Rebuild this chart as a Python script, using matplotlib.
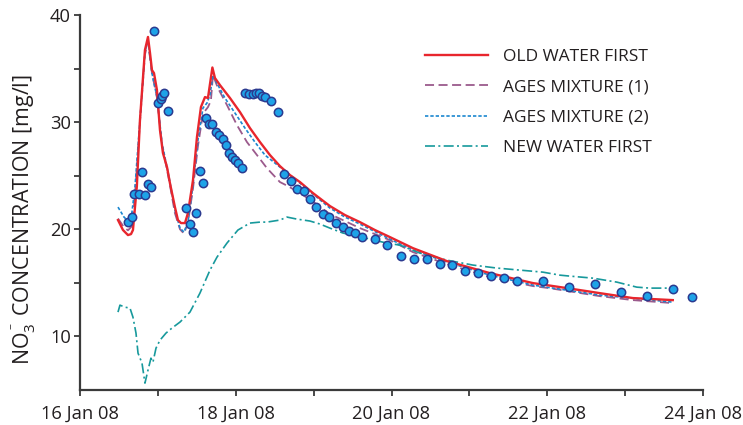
import numpy as np
import matplotlib
matplotlib.use("Agg")
import matplotlib.pyplot as plt

plt.rcParams['font.family'] = ['Open Sans', 'DejaVu Sans']
plt.rcParams['mathtext.fontset'] = 'custom'
plt.rcParams['mathtext.rm'] = 'Open Sans'
plt.rcParams['mathtext.it'] = 'Open Sans'

# x values: days after 16 Jan 2008 00:00
obs_t = [0.616, 0.668, 0.693, 0.757, 0.792, 0.834, 0.873, 0.911, 0.950, 1.001, 1.040, 1.053,
         1.078, 1.130, 1.361, 1.412, 1.451, 1.489, 1.540, 1.579, 1.617, 1.656, 1.694, 1.746,
         1.784, 1.836, 1.874, 1.913, 1.951, 1.990, 2.028, 2.080, 2.118, 2.169, 2.221, 2.259,
         2.298, 2.336, 2.375, 2.452, 2.542, 2.619, 2.709, 2.786, 2.876, 2.953, 3.030, 3.119,
         3.196, 3.286, 3.376, 3.453, 3.530, 3.620, 3.787, 3.941, 4.121, 4.288, 4.454, 4.621,
         4.775, 4.942, 5.109, 5.276, 5.443, 5.610, 5.943, 6.277, 6.611, 6.945, 7.279, 7.612,
         7.856]
obs_v = [20.67, 21.14, 23.29, 23.29, 25.37, 23.19, 24.22, 23.94, 38.51, 31.78, 32.16, 32.44,
         32.72, 31.04, 21.98, 20.49, 19.74, 21.51, 25.43, 24.31, 30.38, 29.82, 29.82, 29.08,
         28.80, 28.42, 27.86, 27.12, 26.74, 26.46, 26.18, 25.71, 32.72, 32.62, 32.62, 32.72,
         32.72, 32.44, 32.34, 31.97, 30.94, 25.15, 24.50, 23.75, 23.57, 22.82, 22.07, 21.42,
         21.14, 20.58, 20.21, 19.83, 19.65, 19.27, 19.08, 18.52, 17.50, 17.22, 17.22, 16.75,
         16.66, 16.10, 15.91, 15.63, 15.44, 15.16, 15.16, 14.60, 14.88, 14.14, 13.76, 14.42,
         13.67]

old_t = [0.488, 0.552, 0.616, 0.655, 0.680, 0.730, 0.770, 0.834, 0.873, 0.899, 0.924, 0.950,
         0.988, 1.027, 1.065, 1.117, 1.155, 1.219, 1.258, 1.297, 1.348, 1.386, 1.451, 1.502,
         1.553, 1.605, 1.643, 1.700, 1.733, 1.797, 1.926, 2.054, 2.182, 2.311, 2.439, 2.567,
         2.696, 2.824, 2.991, 3.209, 3.402, 3.594, 3.787, 3.980, 4.275, 4.711, 5.263, 5.815,
         6.252, 6.675, 7.099, 7.612]
old_v = [20.86, 19.93, 19.46, 19.55, 19.93, 24.00, 30.20, 36.73, 37.95, 36.45, 34.86, 34.58,
         33.00, 29.26, 27.12, 25.81, 24.31, 22.07, 20.86, 20.58, 20.58, 21.51, 24.59, 28.61,
         31.41, 32.34, 32.25, 35.10, 34.12, 33.46, 32.25, 30.94, 29.45, 28.14, 26.93, 25.90,
         25.06, 24.41, 23.38, 22.17, 21.33, 20.67, 19.93, 19.27, 18.24, 17.03, 15.91, 14.98,
         14.51, 14.04, 13.58, 13.39]

mix1_t = [0.488, 0.565, 0.616, 0.668, 0.706, 0.770, 0.834, 0.873, 0.924, 0.988, 1.053, 1.143,
          1.219, 1.284, 1.335, 1.386, 1.451, 1.515, 1.579, 1.643, 1.681, 1.707, 1.771, 1.887,
          2.015, 2.144, 2.272, 2.400, 2.567, 2.670, 2.824, 3.017, 3.209, 3.402, 3.594, 3.980,
          4.275, 4.711, 5.263, 5.815, 6.033, 6.675, 7.099, 7.612]
mix1_v = [21.00, 20.20, 19.90, 20.30, 23.20, 30.00, 36.30, 37.50, 34.60, 32.30, 27.90, 24.60,
          21.50, 20.00, 19.60, 20.60, 23.80, 27.80, 30.80, 31.40, 32.00, 34.40, 33.18, 31.60,
          29.73, 28.14, 26.93, 25.71, 24.41, 24.03, 23.38, 22.45, 21.42, 20.77, 20.11, 18.99,
          17.87, 16.75, 15.54, 14.70, 14.50, 13.76, 13.39, 13.11]

mix2_t = [0.488, 0.565, 0.616, 0.655, 0.706, 0.770, 0.834, 0.873, 0.924, 0.988, 1.053, 1.143,
          1.219, 1.284, 1.335, 1.386, 1.451, 1.515, 1.579, 1.630, 1.669, 1.707, 1.771, 1.861,
          1.990, 2.118, 2.246, 2.375, 2.567, 2.696, 2.824, 2.991, 3.209, 3.402, 3.594, 3.980,
          4.275, 4.711, 5.263, 5.815, 6.675, 7.612]
mix2_v = [22.07, 21.14, 20.77, 20.86, 23.94, 30.20, 36.55, 37.67, 34.58, 32.34, 28.05, 24.87,
          21.79, 20.11, 19.74, 20.67, 24.13, 28.33, 31.32, 31.78, 32.53, 34.40, 33.46, 32.25,
          30.85, 29.45, 28.14, 26.93, 25.81, 25.06, 24.31, 23.29, 21.98, 21.14, 20.49, 19.08,
          18.06, 16.94, 15.72, 14.79, 13.86, 13.20]

new_t = [0.488, 0.513, 0.578, 0.642, 0.680, 0.719, 0.745, 0.796, 0.834, 0.873, 0.911, 0.937,
         0.976, 1.027, 1.104, 1.181, 1.284, 1.412, 1.540, 1.669, 1.759, 1.887, 2.028, 2.182,
         2.311, 2.400, 2.567, 2.657, 2.786, 2.953, 3.081, 3.209, 3.376, 3.556, 3.723, 3.941,
         4.108, 4.365, 4.711, 5.045, 5.353, 5.648, 5.944, 6.162, 6.290, 6.585, 6.893, 7.150,
         7.317, 7.612]
new_v = [12.27, 12.92, 12.73, 12.64, 11.80, 10.31, 8.44, 7.51, 5.64, 6.85, 7.97, 7.60,
         8.91, 9.65, 10.31, 10.78, 11.34, 12.27, 14.04, 16.19, 17.40, 18.71, 19.93, 20.58,
         20.67, 20.67, 20.86, 21.14, 20.95, 20.77, 20.49, 20.11, 19.65, 19.37, 19.08, 18.71,
         18.52, 17.78, 17.12, 16.66, 16.38, 16.19, 16.00, 15.72, 15.63, 15.44, 15.07, 14.60,
         14.51, 14.51]

series_labels = ["OLD WATER FIRST", "AGES MIXTURE (1)", "AGES MIXTURE (2)", "NEW WATER FIRST"]
xtick_pos = [0, 2, 4, 6, 8]
xtick_labels = ["16 Jan 08", "18 Jan 08", "20 Jan 08", "22 Jan 08", "24 Jan 08"]
ytick_pos = [10, 20, 30, 40]

txt = '#231f20'
fig = plt.figure(figsize=(7.43, 4.25), dpi=100)
ax = fig.add_axes([80/743, 1-390/425, 623/743, 375/425])

l1, = ax.plot(old_t, old_v, color='#e8262d', lw=1.7, zorder=4)
l2, = ax.plot(mix1_t, mix1_v, color='#9b5a8c', lw=1.3, dashes=(5, 2.5), zorder=3)
l3, = ax.plot(mix2_t, mix2_v, color='#1b87d0', lw=1.2, dashes=(2, 1.2), zorder=3)
l4, = ax.plot(new_t, new_v, color='#17999c', lw=1.2, dashes=(6, 2, 1.2, 2), zorder=3)
ax.plot(obs_t, obs_v, ls='none', marker='o', ms=6, mfc='#1ea3e8', mec='#2b3a8f', mew=1.1, zorder=5)

ax.set_xlim(0, 8)
ax.set_ylim(5, 40)
ax.set_xticks(xtick_pos)
ax.set_xticklabels(xtick_labels)
ax.set_xticks([1, 3, 5, 7], minor=True)
ax.set_yticks(ytick_pos)
ax.set_yticks([15, 25, 35], minor=True)
for s in ['top', 'right']:
    ax.spines[s].set_visible(False)
for s in ['left', 'bottom']:
    ax.spines[s].set_color('#3a3a3a')
    ax.spines[s].set_linewidth(1.6)
ax.tick_params(which='both', direction='out', length=4, width=1.3, color='#3a3a3a',
               labelsize=13.2, labelcolor=txt)
ax.tick_params(axis='x', pad=7)
ax.tick_params(axis='y', pad=2.5)
ax.set_ylabel(r'NO$_3^{^-}$ CONCENTRATION [mg/l]', fontsize=15.4, color=txt)
ax.yaxis.set_label_coords((38 - 80) / 623, 0.455)

leg = ax.legend([l1, l2, l3, l4], series_labels, loc='upper left',
                bbox_to_anchor=(425/743, 1-49/425), bbox_transform=fig.transFigure,
                frameon=False, fontsize=12.5, handlelength=3.6, handletextpad=0.9,
                labelspacing=0.82, borderpad=0, borderaxespad=0)
for t in leg.get_texts():
    t.set_color(txt)

fig.savefig('out.png', dpi=100)
